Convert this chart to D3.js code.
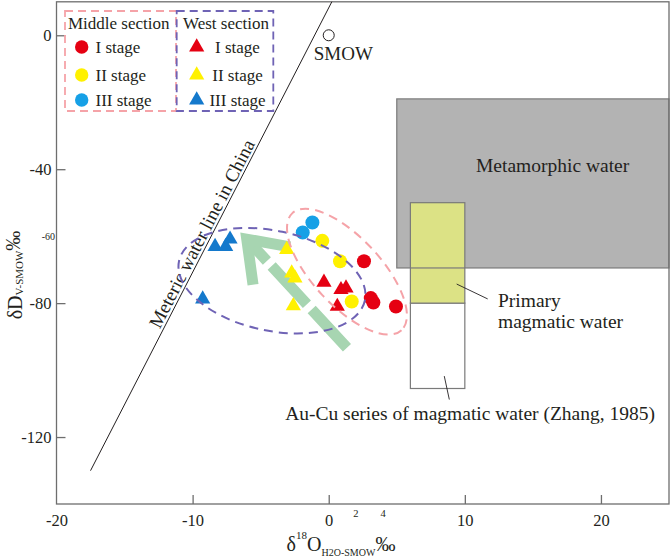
<!DOCTYPE html>
<html>
<head>
<meta charset="utf-8">
<script src="https://d3js.org/d3.v7.min.js"></script>
<style>
  body { margin: 0; background: #fff; }
  svg { display: block; }
  text { font-family: "Liberation Serif", "Times New Roman", serif; fill: #231f20; }
</style>
</head>
<body>
<svg width="671" height="560"></svg>
<script>
// samples as [δ18O, δD]
const midI = [[2.59, -67.5], [3.09, -78.5], [3.28, -79.8], [4.94, -81.0]]
const midII = [[-0.47, -61.4], [0.83, -67.5], [1.69, -79.5]]
const midIII = [[-1.20, -55.9], [-1.91, -58.9]]
const westI = [[-0.35, -73.8], [0.90, -76.0], [1.27, -75.5], [0.63, -81.0]]
const westII = [[-3.09, -64.0], [-2.72, -71.0], [-2.48, -72.5], [-2.60, -80.8]]
const westIII = [[-8.35, -63.1], [-7.57, -63.1], [-7.25, -60.9], [-9.26, -78.8]]

const xTicks = [-20, -10, 0, 10, 20]
const yTicks = [0, -40, -80, -120]
const strayXTicks = [2, 4]
const strayYTicks = [-60]

const sections = ['Middle section', 'West section']
const stages = ['I stage', 'II stage', 'III stage']

// water reservoirs [x0, x1, yTop, yBottom]
const metamorphic = [5, 25, -19, -69.5]
const primary = [6, 10, -50, -80]
const auCu = [6, 10, -80, -105.5]
const smow = [0, 0]

// meteoric water line in China: δD = 7.9 δ18O + 8.2
const mwlRange = [-17.5, 0.23]
const mwlLabelAt = -8.7

// trend arrow: tail, tip, and the two head arms
const trendArrow = [[1.34, -93.3], [-6.52, -58.7]]
const arrowArms = [[-5.56, -74.5], [-2.84, -63.2]]

// leader lines
const primaryLeader = [[9.40, -74.3], [11.68, -78.75]]
const auCuLeader = [[8.49, -101.8], [8.86, -108.8]]

const colors = { red: '#e50012', yellow: '#fff100', cyan: '#16a0e6', blue: '#1479cc' }

const svg = d3.select('svg')
const x = d3.scaleLinear().domain([-20, 25]).range([56.5, 669])
const y = d3.scaleLinear().domain([-140, 10]).range([504, 1.8])
const mwl = d => 7.9 * d + 8.2

const setAttrs = (sel, attrs) => {
  Object.entries(attrs).forEach(([k, v]) => sel.attr(k, v))
  return sel
}
const boxAttrs = b => ({
  x: x(b[0]), y: y(b[2]), width: x(b[1]) - x(b[0]), height: y(b[3]) - y(b[2])
})

// reservoirs
setAttrs(svg.append('rect'), { ...boxAttrs(metamorphic), fill: '#b3b3b3', stroke: 'none' })
setAttrs(svg.append('rect'), { ...boxAttrs(auCu), fill: '#fff', stroke: '#7a7a7a', 'stroke-width': 1.2 })
setAttrs(svg.append('rect'), { ...boxAttrs(primary), fill: '#dce285', stroke: '#7a7a7a', 'stroke-width': 1.2 })
setAttrs(svg.append('rect'), { ...boxAttrs(metamorphic), fill: 'none', stroke: '#7a7a7a', 'stroke-width': 1.2 })

// frame + axes
setAttrs(svg.append('rect'), {
  x: x.range()[0], y: y.range()[1], width: x.range()[1] - x.range()[0],
  height: y.range()[0] - y.range()[1], fill: 'none', stroke: '#6e6e6e', 'stroke-width': 1.3
})

const xAxis = svg.append('g')
  .attr('transform', `translate(0,${y.range()[0]})`)
  .call(d3.axisBottom(x).tickValues(xTicks).tickSizeInner(-9).tickSizeOuter(0).tickPadding(10).tickFormat(d3.format('d')))
const yAxis = svg.append('g')
  .attr('transform', `translate(${x.range()[0]},0)`)
  .call(d3.axisLeft(y).tickValues(yTicks).tickSizeInner(-9).tickSizeOuter(0).tickPadding(5).tickFormat(d3.format('d')))
;[xAxis, yAxis].forEach(g => {
  g.select('.domain').remove()
  g.selectAll('line').attr('stroke', '#6e6e6e').attr('stroke-width', 1.3)
  g.selectAll('text').attr('fill', '#231f20').style('font-size', '16.5px')
    .style('font-family', '"Liberation Serif", "Times New Roman", serif')
})
xAxis.selectAll('.tick').filter(d => d === -20).select('line').remove()
yAxis.selectAll('text').text(d => d === 0 ? '0' : `-${Math.abs(d)}`)
xAxis.selectAll('text').text(d => d < 0 ? `-${Math.abs(d)}` : d)

// stray small labels present in the original
svg.selectAll('.strayx').data(strayXTicks).join('text')
  .attr('x', d => x(d)).attr('y', 516.5).attr('text-anchor', 'middle')
  .style('font-size', '10.5px').text(d => d)
svg.selectAll('.strayy').data(strayYTicks).join('text')
  .attr('x', 55).attr('y', d => y(d) + 3.5).attr('text-anchor', 'end')
  .style('font-size', '10px').text(d => `-${Math.abs(d)}`)

// axis titles
const xt = svg.append('text').attr('x', 341).attr('y', 551).attr('text-anchor', 'middle').style('font-size', '20px')
xt.append('tspan').text('δ')
xt.append('tspan').attr('dy', -12).style('font-size', '11px').text('18')
xt.append('tspan').attr('dy', 12).text('O')
xt.append('tspan').attr('dy', 5).style('font-size', '10px').text('H2O-SMOW')
xt.append('tspan').attr('dy', -5).text('‰')

const yt = svg.append('text').attr('transform', 'translate(21.5,275) rotate(-90)')
  .attr('text-anchor', 'middle').style('font-size', '20px')
yt.append('tspan').text('δD')
yt.append('tspan').attr('dy', 1.5).style('font-size', '11px').text('V-SMOW')
yt.append('tspan').attr('dy', -3.5).text('‰')

// meteoric water line
svg.append('line')
  .attr('x1', x(mwlRange[0])).attr('y1', y(mwl(mwlRange[0])))
  .attr('x2', x(mwlRange[1])).attr('y2', y(mwl(mwlRange[1])))
  .attr('stroke', '#231f20').attr('stroke-width', 1)
const mwlAngle = Math.atan2(y(mwl(1)) - y(mwl(0)), x(1) - x(0)) * 180 / Math.PI
svg.append('text')
  .attr('transform', `translate(${x(mwlLabelAt)},${y(mwl(mwlLabelAt))}) rotate(${mwlAngle})`)
  .attr('y', -3).attr('text-anchor', 'middle').style('font-size', '19px')
  .text('Meteric water line in China')

// SMOW
svg.append('circle').attr('cx', x(smow[0])).attr('cy', y(smow[1])).attr('r', 5.5)
  .attr('fill', '#fff').attr('stroke', '#231f20').attr('stroke-width', 1)
svg.append('text').attr('x', x(smow[0]) - 15).attr('y', y(smow[1]) + 25).style('font-size', '19px').text('SMOW')

// reservoir labels
svg.append('text').attr('x', 476).attr('y', 171.7).style('font-size', '19.5px').text('Metamorphic water')
svg.append('text').attr('x', 498).attr('y', 307).style('font-size', '19.5px').text('Primary')
svg.append('text').attr('x', 498).attr('y', 327.5).style('font-size', '19.5px').text('magmatic water')
svg.append('text').attr('x', 655).attr('y', 420).attr('text-anchor', 'end').style('font-size', '19.5px')
  .text('Au-Cu series of magmatic water (Zhang, 1985)')
;[primaryLeader, auCuLeader].forEach(l => {
  svg.append('line')
    .attr('x1', x(l[0][0])).attr('y1', y(l[0][1]))
    .attr('x2', x(l[1][0])).attr('y2', y(l[1][1]))
    .attr('stroke', '#231f20').attr('stroke-width', 0.9)
})

// trend arrow (thick dashed shaft + open head)
const green = '#a7d5b1'
const arrowW = 11
const tail = [x(trendArrow[0][0]), y(trendArrow[0][1])]
const tipOuter = [x(trendArrow[1][0]), y(trendArrow[1][1])]
const dirLen = Math.hypot(tail[0] - tipOuter[0], tail[1] - tipOuter[1])
const dir = [(tail[0] - tipOuter[0]) / dirLen, (tail[1] - tipOuter[1]) / dirLen]
const tip = [tipOuter[0] + dir[0] * 10, tipOuter[1] + dir[1] * 10]
svg.append('line')
  .attr('x1', tail[0]).attr('y1', tail[1]).attr('x2', tip[0]).attr('y2', tip[1])
  .attr('stroke', green).attr('stroke-width', arrowW).attr('stroke-dasharray', '52 7')
svg.append('path')
  .attr('d', d3.line()([[x(arrowArms[0][0]), y(arrowArms[0][1])], tip, [x(arrowArms[1][0]), y(arrowArms[1][1])]]))
  .attr('fill', 'none').attr('stroke', green).attr('stroke-width', arrowW)
  .attr('stroke-linejoin', 'miter').attr('stroke-miterlimit', 6)

// samples
const tri = d3.symbol(d3.symbolTriangle, 100)
const series = [
  { data: westIII, color: colors.blue, shape: 'tri' },
  { data: westII, color: colors.yellow, shape: 'tri' },
  { data: midIII, color: colors.cyan, shape: 'circle' },
  { data: midII, color: colors.yellow, shape: 'circle' },
  { data: westI, color: colors.red, shape: 'tri' },
  { data: midI, color: colors.red, shape: 'circle' }
]
series.forEach(s => {
  if (s.shape === 'circle') {
    svg.append('g').selectAll('circle').data(s.data).join('circle')
      .attr('cx', d => x(d[0])).attr('cy', d => y(d[1])).attr('r', 7).attr('fill', s.color)
  } else {
    svg.append('g').selectAll('path').data(s.data).join('path')
      .attr('transform', d => `translate(${x(d[0])},${y(d[1])})`).attr('d', tri).attr('fill', s.color)
  }
})

// group outlines
const outlines = [
  { c: [-4.17, -73.3], rx: 95, ry: 50, rot: 12, color: '#6f63b5' },
  { c: [1.34, -70.6], rx: 80, ry: 34, rot: 47, color: '#f5a3a8' }
]
outlines.forEach(o => {
  svg.append('ellipse')
    .attr('transform', `translate(${x(o.c[0])},${y(o.c[1])}) rotate(${o.rot})`)
    .attr('rx', o.rx).attr('ry', o.ry)
    .attr('fill', 'none').attr('stroke', o.color).attr('stroke-width', 2).attr('stroke-dasharray', '9 6')
})

// legend
const legend = svg.append('g')
setAttrs(legend.append('rect'), { x: 65, y: 11, width: 111, height: 100, fill: 'none', stroke: '#f5a3a8', 'stroke-width': 1.8, 'stroke-dasharray': '8 5' })
setAttrs(legend.append('rect'), { x: 176.7, y: 11, width: 96.6, height: 100, fill: 'none', stroke: '#6f63b5', 'stroke-width': 1.8, 'stroke-dasharray': '8 5' })
legend.append('text').attr('x', 68).attr('y', 28.5).style('font-size', '17px').text(sections[0])
legend.append('text').attr('x', 183).attr('y', 28.5).style('font-size', '17px').text(sections[1])
const rowY = [47, 75, 100]
const midColors = [colors.red, colors.yellow, colors.cyan]
const westColors = [colors.red, colors.yellow, colors.blue]
stages.forEach((s, i) => {
  legend.append('circle').attr('cx', 81.7).attr('cy', rowY[i]).attr('r', 6.7).attr('fill', midColors[i])
  legend.append('text').attr('x', 95.5).attr('y', rowY[i] + 6).style('font-size', '17px').text(s)
  legend.append('path').attr('transform', `translate(196.7,${rowY[i]})`).attr('d', tri).attr('fill', westColors[i])
  legend.append('text').attr('x', 237.5).attr('y', rowY[i] + 6).attr('text-anchor', 'middle').style('font-size', '17px').text(s)
})
</script>
</body>
</html>
